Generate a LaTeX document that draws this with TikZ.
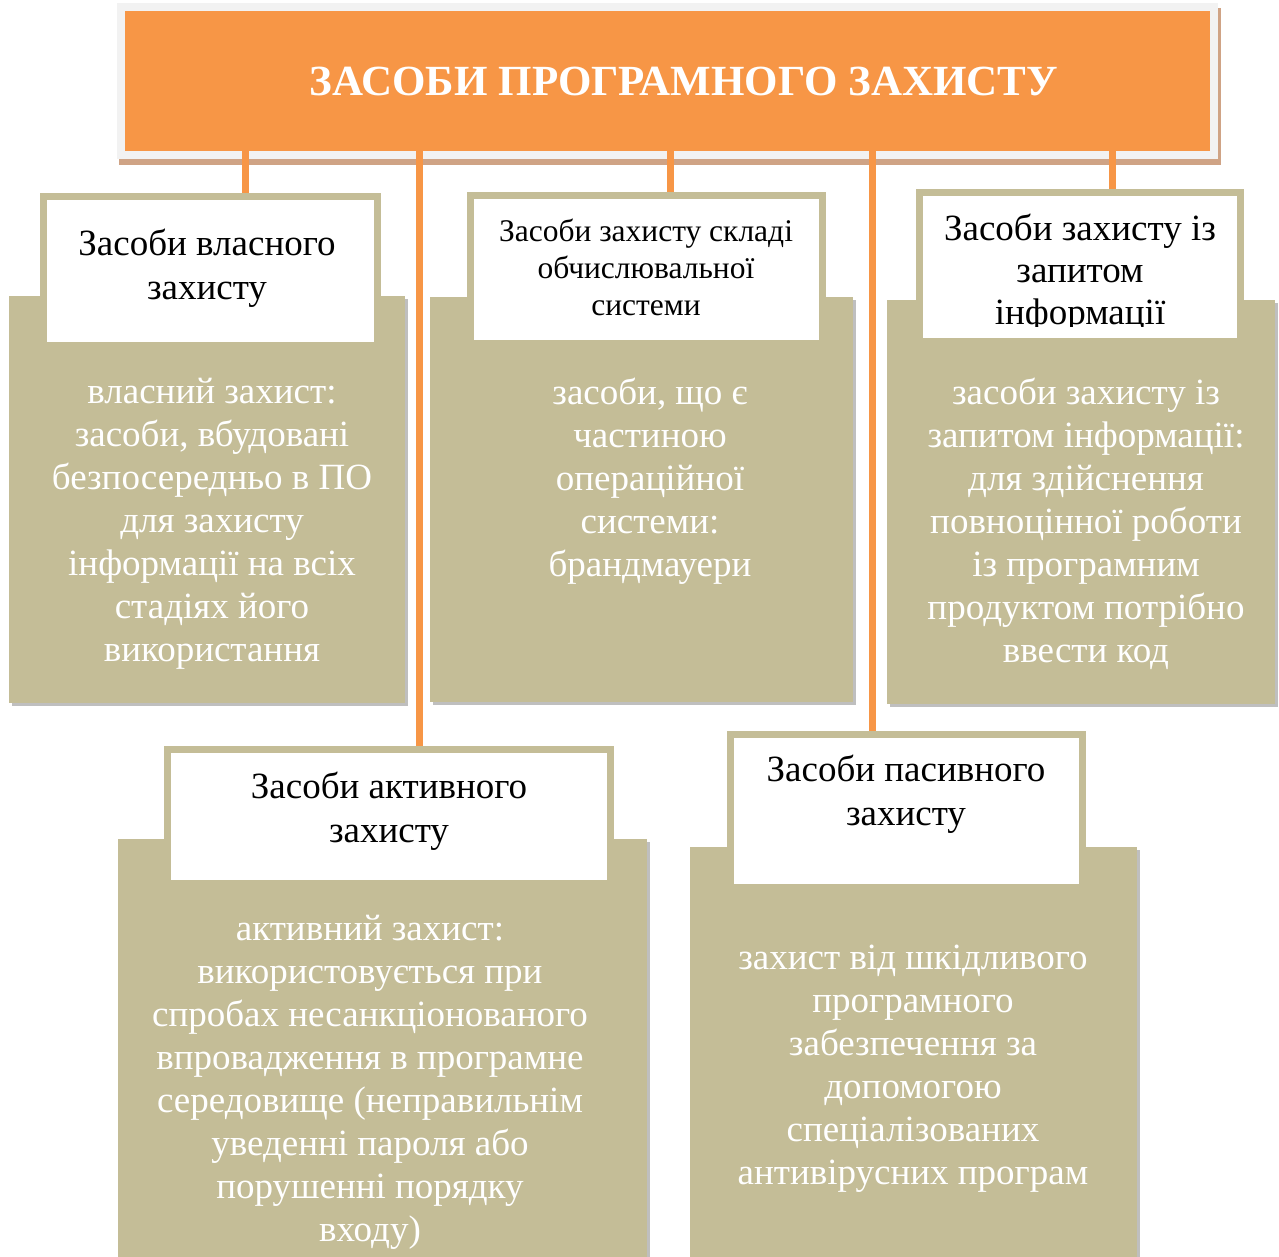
\documentclass[tikz,border=0pt]{standalone}
\usepackage{fontspec}
\setmainfont{Liberation Serif}
\usetikzlibrary{shadows}
\definecolor{titleorange}{HTML}{F79646}
\definecolor{framegray}{HTML}{F2F2F2}
\definecolor{titleshadow}{HTML}{CFA385}
\definecolor{khaki}{HTML}{C4BD97}
\definecolor{boxshadow}{HTML}{BFBFBF}

\begin{document}
\begin{tikzpicture}[x=1pt,y=1pt,
        link/.style={titleorange,line width=7pt},
        header/.style={draw=khaki,fill=white,line width=7pt,inner sep=0pt},
        panel/.style={fill=khaki,inner sep=0pt,drop shadow={shadow xshift=3pt,shadow yshift=-3pt,fill=boxshadow,opacity=1}},
        headtext/.style={align=center,font=\fontsize{37}{44}\selectfont},
        bodytext/.style={align=center,text=white,font=\fontsize{37}{43}\selectfont}]
        \useasboundingbox (0,0) rectangle (1279,-1256);
        % title
        \fill[titleshadow] (119,-8) rectangle (1221,-165);
        \node[fill=titleorange,draw=framegray,line width=8pt,inner sep=0pt,minimum width=1093pt,minimum height=148pt] (title) at (667.5,-81) {};
        \node[text=white,font=\bfseries\fontsize{43}{50}\selectfont] (titletext) at (684,-81) {ЗАСОБИ ПРОГРАМНОГО ЗАХИСТУ};
        % panels
        \node[panel,minimum width=396pt,minimum height=407pt] (b1) at (207,-499.5) {};
        \node[panel,minimum width=423pt,minimum height=405pt] (b2) at (641.5,-499.5) {};
        \node[panel,minimum width=388pt,minimum height=404pt] (b3) at (1081,-502) {};
        \node[panel,minimum width=529pt,minimum height=423pt] (b4) at (382.5,-1050.5) {};
        \node[panel,minimum width=447pt,minimum height=415pt] (b5) at (913.5,-1054.5) {};
        % headers
        \node[header,minimum width=334pt,minimum height=149pt] (h1) at (210.5,-271) {};
        \node[header,minimum width=352pt,minimum height=148pt] (h2) at (646.5,-269.5) {};
        \node[header,minimum width=321pt,minimum height=149pt] (h3) at (1080,-267) {};
        \node[header,minimum width=443pt,minimum height=134pt] (h4) at (389,-816.5) {};
        \node[header,minimum width=352pt,minimum height=153pt] (h5) at (906.5,-811) {};
        % connectors
        \coordinate (c1) at (245,-151);
        \coordinate (c2) at (419,-151);
        \coordinate (c3) at (670,-151);
        \coordinate (c4) at (872,-151);
        \coordinate (c5) at (1112,-151);
        \draw[link] (c1) -- (c1 |- h1.north);
        \draw[link] (c2) -- (c2 |- h4.north);
        \draw[link] (c3) -- (c3 |- h2.north);
        \draw[link] (c4) -- (c4 |- h5.north);
        \draw[link] (c5) -- (c5 |- h3.north);
        % header texts
        \node[headtext] (h1t) at (207,-268) {Засоби власного\\захисту};
        \node[headtext,font=\fontsize{31.5}{37}\selectfont] (h2t) at (646,-267) {Засоби захисту складі\\обчислювальної\\системи};
        \begin{scope}
            \clip (919,-190) rectangle (1241,-326);
            \node[headtext,font=\fontsize{37}{42}\selectfont] (h3t) at (1080,-273) {Засоби захисту із\\запитом\\інформації};
        \end{scope}
        \node[headtext] (h4t) at (389,-811) {Засоби активного\\захисту};
        \node[headtext] (h5t) at (906,-794) {Засоби пасивного\\захисту};
        % panel texts
        \node[bodytext] (t1) at (212,-524) {власний захист:\\засоби, вбудовані\\безпосередньо в ПО\\для захисту\\інформації на всіх\\стадіях його\\використання};
        \node[bodytext] (t2) at (650,-481) {засоби, що є\\частиною\\операційної\\системи:\\брандмауери};
        \node[bodytext] (t3) at (1086,-524) {засоби захисту із\\запитом інформації:\\для здійснення\\повноцінної роботи\\із програмним\\продуктом потрібно\\ввести код};
        \node[bodytext] (t4) at (370,-1082.5) {активний захист:\\використовується при\\спробах несанкціонованого\\впровадження в програмне\\середовище (неправильнім\\уведенні пароля або\\порушенні порядку\\входу)};
        \node[bodytext] (t5) at (913,-1068.5) {захист від шкідливого\\програмного\\забезпечення за\\допомогою\\спеціалізованих\\антивірусних програм};
    \end{tikzpicture}
\end{document}
